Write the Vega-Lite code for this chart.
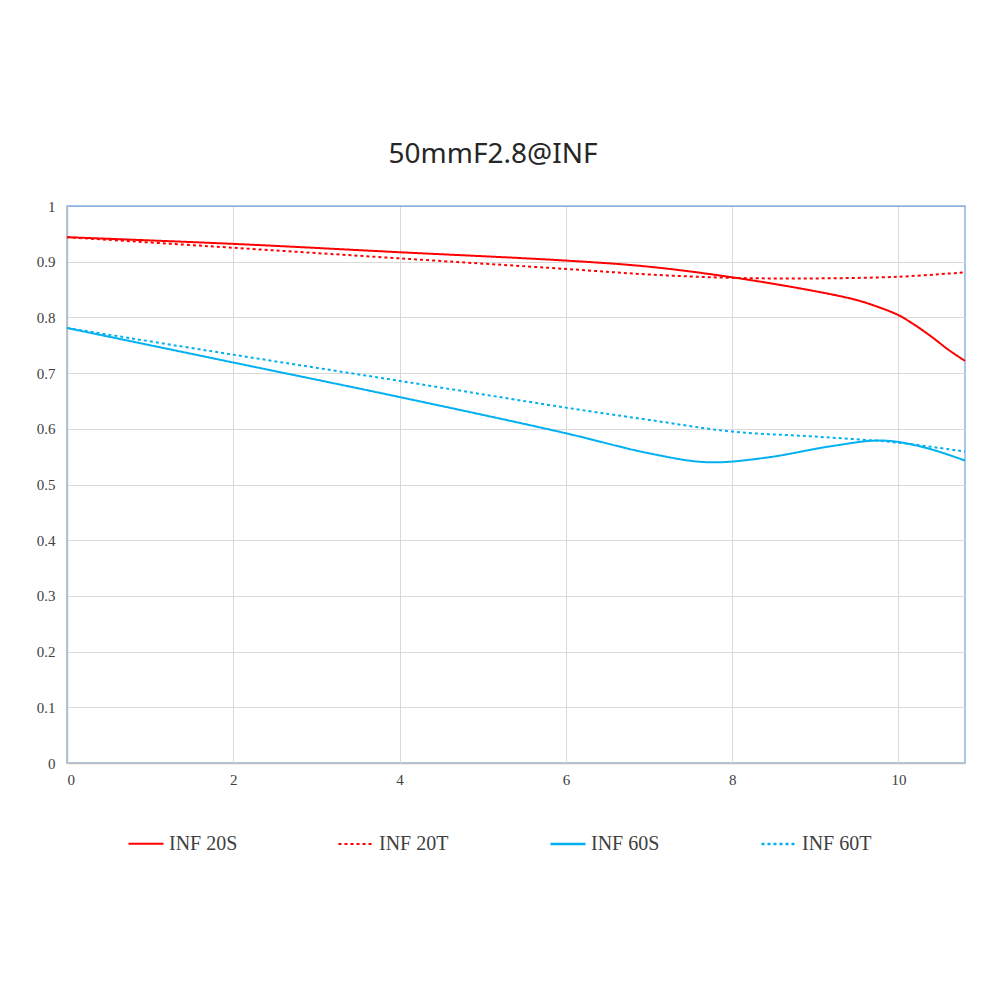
{
  "$schema": "https://vega.github.io/schema/vega-lite/v6.json",
  "autosize": "none",
  "width": 898,
  "height": 557,
  "padding": {"left": 67, "top": 206, "right": 35, "bottom": 237},
  "background": "white",
  "title": {
    "text": "50mmF2.8@INF",
    "font": "Noto Sans",
    "fontSize": 28,
    "fontWeight": "normal",
    "color": "#262626",
    "anchor": "middle",
    "baseline": "alphabetic",
    "offset": 8,
    "dx": -23
  },
  "config": {
    "view": {"stroke": "#8db4e2", "strokeWidth": 1.5}
  },
  "data": {
    "values": [
      {"series": "INF 20S", "x": 0, "y": 0.944},
      {"series": "INF 20S", "x": 2, "y": 0.932},
      {"series": "INF 20S", "x": 4, "y": 0.917},
      {"series": "INF 20S", "x": 6, "y": 0.902},
      {"series": "INF 20S", "x": 7, "y": 0.891},
      {"series": "INF 20S", "x": 8, "y": 0.872},
      {"series": "INF 20S", "x": 9, "y": 0.847},
      {"series": "INF 20S", "x": 9.5, "y": 0.831},
      {"series": "INF 20S", "x": 9.75, "y": 0.819},
      {"series": "INF 20S", "x": 10, "y": 0.804},
      {"series": "INF 20S", "x": 10.2, "y": 0.786},
      {"series": "INF 20S", "x": 10.4, "y": 0.765},
      {"series": "INF 20S", "x": 10.6, "y": 0.742},
      {"series": "INF 20S", "x": 10.8, "y": 0.722},
      {"series": "INF 20T", "x": 0, "y": 0.944},
      {"series": "INF 20T", "x": 2, "y": 0.925},
      {"series": "INF 20T", "x": 4, "y": 0.906},
      {"series": "INF 20T", "x": 6, "y": 0.887},
      {"series": "INF 20T", "x": 7, "y": 0.877},
      {"series": "INF 20T", "x": 8, "y": 0.871},
      {"series": "INF 20T", "x": 9, "y": 0.870},
      {"series": "INF 20T", "x": 10, "y": 0.873},
      {"series": "INF 20T", "x": 10.8, "y": 0.881},
      {"series": "INF 60S", "x": 0, "y": 0.781},
      {"series": "INF 60S", "x": 2, "y": 0.719},
      {"series": "INF 60S", "x": 4, "y": 0.657},
      {"series": "INF 60S", "x": 6, "y": 0.592},
      {"series": "INF 60S", "x": 7, "y": 0.556},
      {"series": "INF 60S", "x": 7.7, "y": 0.540},
      {"series": "INF 60S", "x": 8.4, "y": 0.548},
      {"series": "INF 60S", "x": 9.2, "y": 0.569},
      {"series": "INF 60S", "x": 9.8, "y": 0.579},
      {"series": "INF 60S", "x": 10.3, "y": 0.567},
      {"series": "INF 60S", "x": 10.8, "y": 0.543},
      {"series": "INF 60T", "x": 0, "y": 0.781},
      {"series": "INF 60T", "x": 2, "y": 0.733},
      {"series": "INF 60T", "x": 4, "y": 0.686},
      {"series": "INF 60T", "x": 6, "y": 0.638},
      {"series": "INF 60T", "x": 7, "y": 0.616},
      {"series": "INF 60T", "x": 8, "y": 0.595},
      {"series": "INF 60T", "x": 9, "y": 0.586},
      {"series": "INF 60T", "x": 10, "y": 0.575},
      {"series": "INF 60T", "x": 10.8, "y": 0.559}
    ]
  },
  "mark": {"type": "line", "interpolate": "catmull-rom", "strokeWidth": 2, "clip": false},
  "encoding": {
    "x": {
      "field": "x",
      "type": "quantitative",
      "scale": {"domain": [0, 10.8], "nice": false, "zero": true},
      "axis": {
        "title": null,
        "values": [0, 2, 4, 6, 8, 10],
        "grid": true,
        "gridColor": "#d9d9d9",
        "gridWidth": 1,
        "ticks": false,
        "domainColor": "#bfbfbf",
        "domainWidth": 1.5,
        "labelFont": "Liberation Serif",
        "labelFontSize": 15,
        "labelColor": "#404040",
        "labelPadding": 9
      }
    },
    "y": {
      "field": "y",
      "type": "quantitative",
      "scale": {"domain": [0, 1], "nice": false},
      "axis": {
        "title": null,
        "values": [0, 0.1, 0.2, 0.3, 0.4, 0.5, 0.6, 0.7, 0.8, 0.9, 1],
        "format": "~g",
        "grid": true,
        "gridColor": {"condition": {"test": "datum.value === 1", "value": "#8db4e2"}, "value": "#d9d9d9"},
        "gridWidth": 1,
        "ticks": false,
        "domainColor": "#bfbfbf",
        "domainWidth": 1.5,
        "labelFont": "Liberation Serif",
        "labelFontSize": 15,
        "labelColor": "#404040",
        "labelPadding": 12
      }
    },
    "color": {
      "field": "series",
      "type": "nominal",
      "scale": {
        "domain": ["INF 20S", "INF 20T", "INF 60S", "INF 60T"],
        "range": ["#ff0000", "#ff0000", "#00b0f0", "#00b0f0"]
      },
      "legend": {
        "title": null,
        "orient": "none",
        "legendX": 60,
        "legendY": 619,
        "direction": "horizontal",
        "columns": 4,
        "columnPadding": 96,
        "padding": 0,
        "symbolType": "stroke",
        "symbolSize": 1225,
        "symbolStrokeWidth": 2.5,
        "labelFont": "Liberation Serif",
        "labelFontSize": 20,
        "labelColor": "#404040",
        "labelOffset": 4
      }
    },
    "strokeDash": {
      "field": "series",
      "type": "nominal",
      "scale": {
        "domain": ["INF 20S", "INF 20T", "INF 60S", "INF 60T"],
        "range": [[1, 0], [3, 3], [1, 0], [3, 3]]
      },
      "legend": {
        "title": null,
        "orient": "none",
        "legendX": 60,
        "legendY": 619,
        "direction": "horizontal",
        "columns": 4,
        "columnPadding": 96,
        "padding": 0,
        "symbolType": "stroke",
        "symbolSize": 1225,
        "symbolStrokeWidth": 2.5,
        "labelFont": "Liberation Serif",
        "labelFontSize": 20,
        "labelColor": "#404040",
        "labelOffset": 4
      }
    },
    "strokeWidth": {
      "field": "series",
      "type": "nominal",
      "scale": {
        "domain": ["INF 20S", "INF 20T", "INF 60S", "INF 60T"],
        "range": [2, 2.6, 2, 2.6]
      },
      "legend": null
    }
  }
}
